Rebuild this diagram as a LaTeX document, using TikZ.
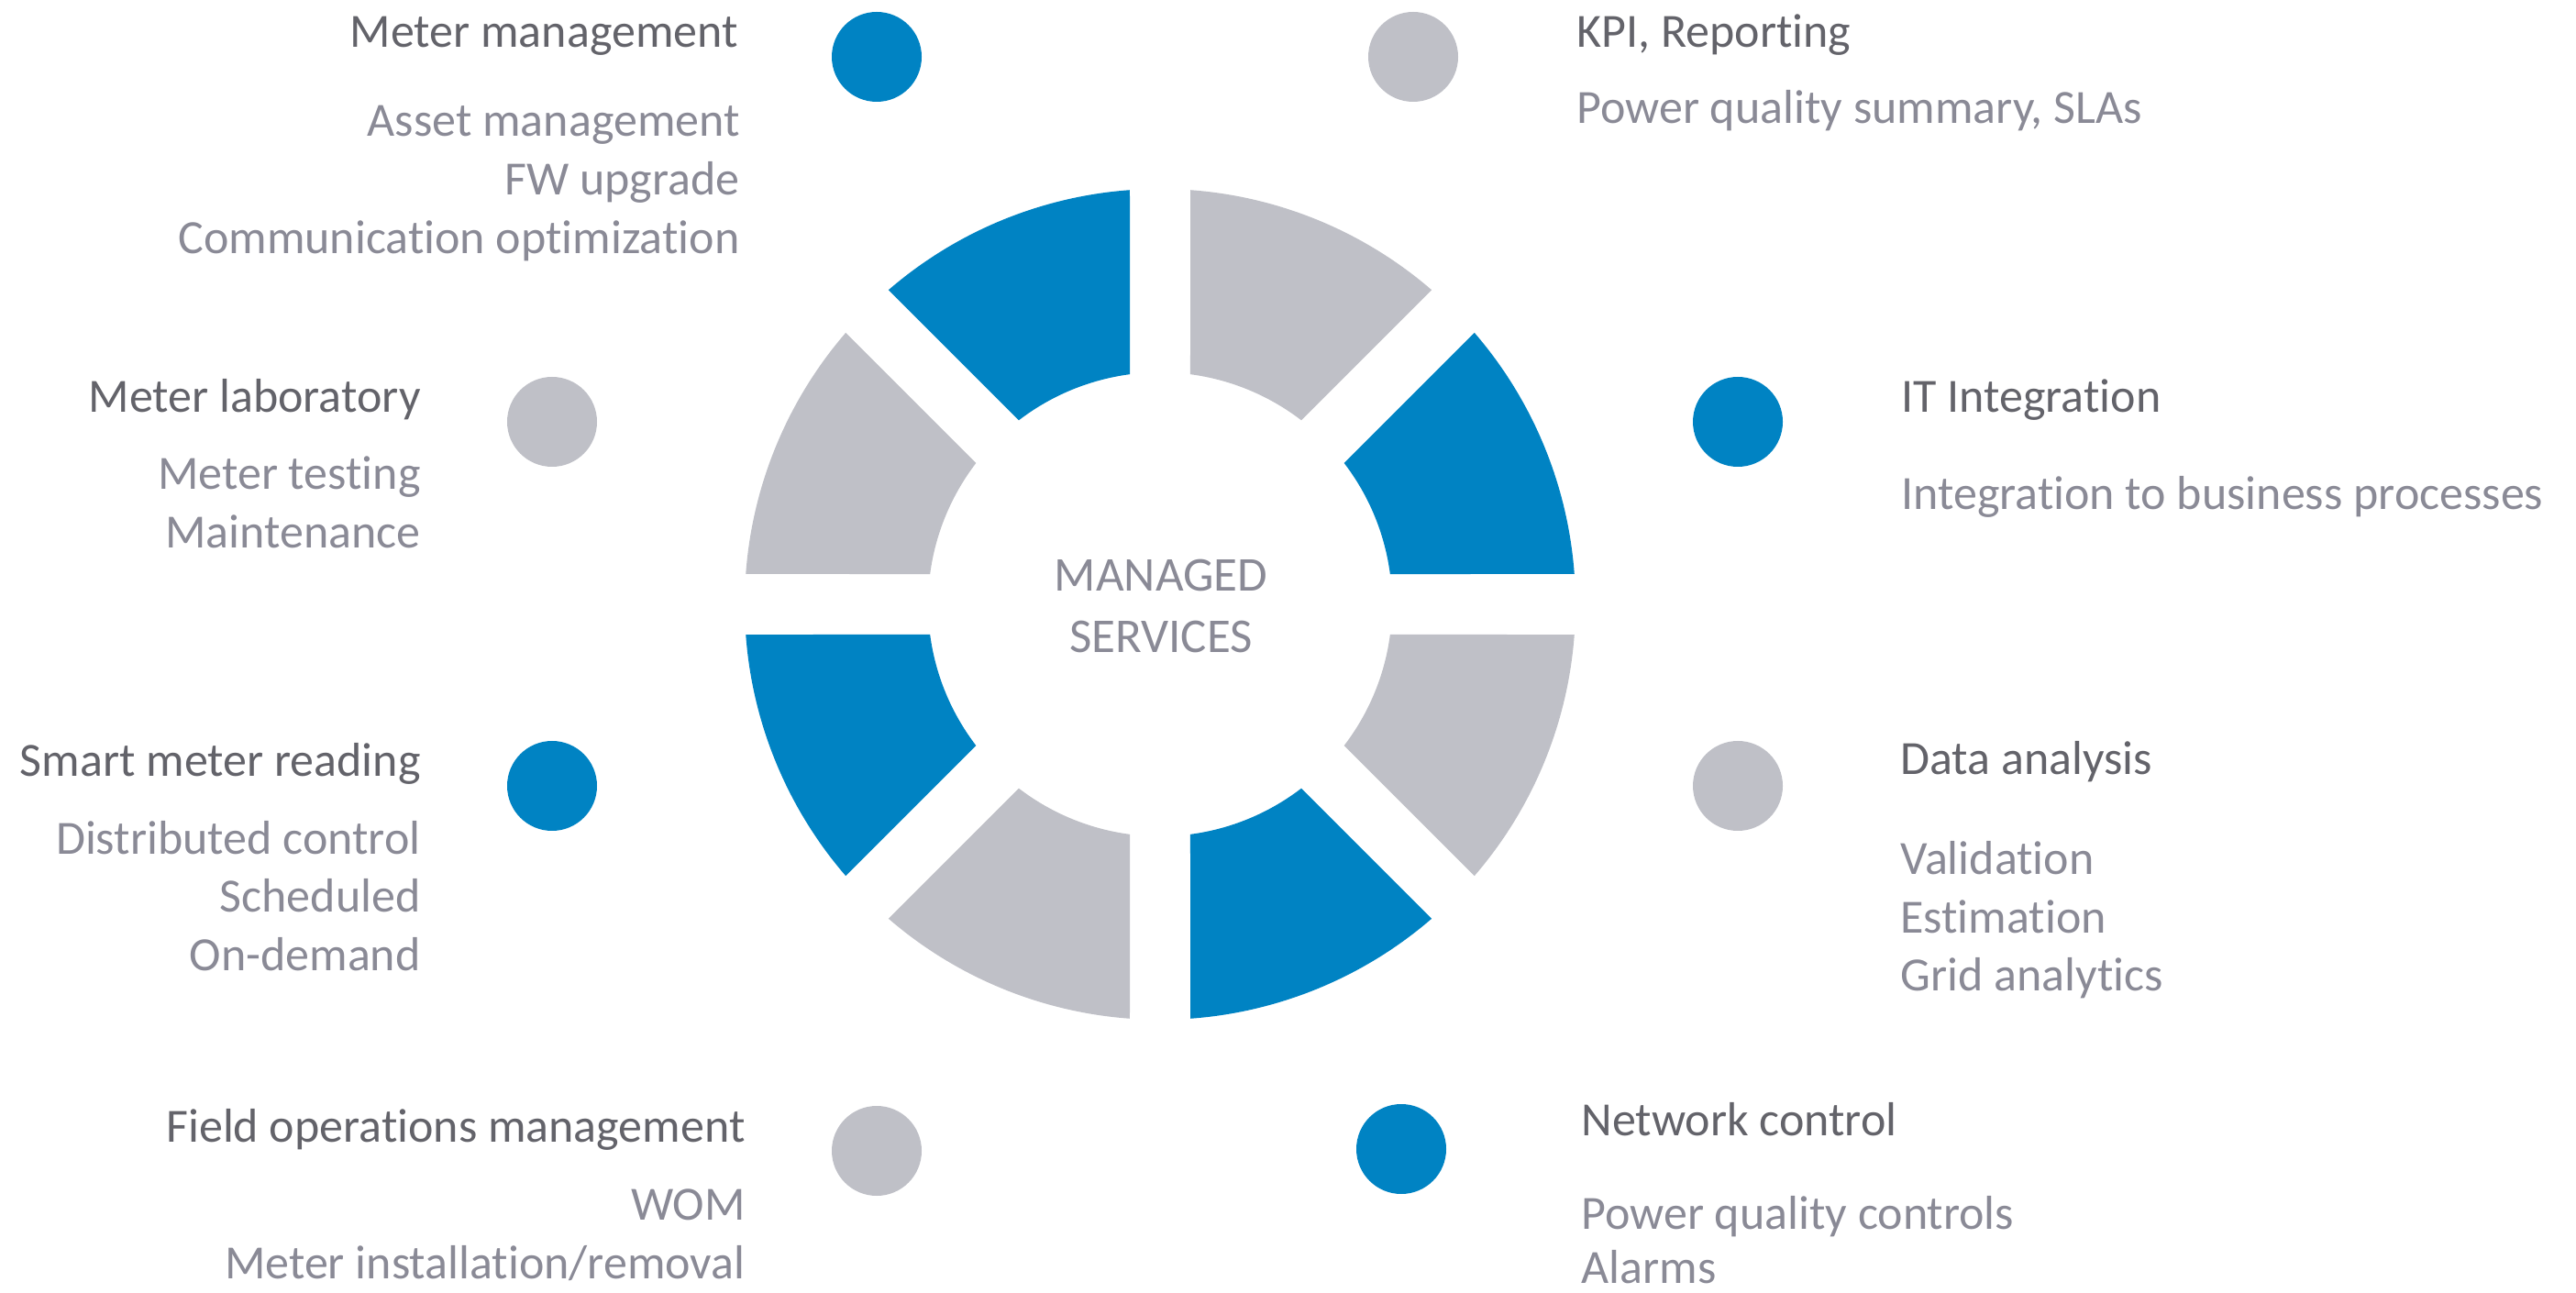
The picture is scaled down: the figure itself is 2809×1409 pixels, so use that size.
\documentclass[tikz,border=0pt]{standalone}
\usepackage{fontspec}
\setmainfont{Carlito}[Ligatures={NoCommon}]
\definecolor{ringblue}{RGB}{0,131,195}
\definecolor{ringgray}{RGB}{191,192,199}
\definecolor{titlec}{RGB}{99,99,106}
\definecolor{subc}{RGB}{138,138,150}
\begin{document}
\begin{tikzpicture}[x=0.5pt,y=0.5pt,
  ttl/.style={inner sep=0pt,text=titlec,font=\fontsize{26}{30}\selectfont},
  sub/.style={inner sep=0pt,text=subc,font=\fontsize{26}{30}\selectfont},
  ctr/.style={inner sep=0pt,text=subc,font=\fontsize{26.5}{30}\selectfont,anchor=base},
  bdot/.style={circle,fill=ringblue,inner sep=0pt,minimum size=49pt},
  gdot/.style={circle,fill=ringgray,inner sep=0pt,minimum size=49pt}]
\useasboundingbox (0,0) rectangle (2809,1409);
% ring
\def\Ro{453}\def\Ri{253}\def\dO{4.18}\def\dI{7.49}
\begin{scope}[shift={(1265,750)}]
\foreach \a/\c in {0/ringblue,45/ringgray,90/ringblue,135/ringgray,180/ringblue,225/ringgray,270/ringblue,315/ringgray}{
  \pgfmathsetmacro\sa{\a+\dO}\pgfmathsetmacro\ea{\a+45-\dO}
  \pgfmathsetmacro\si{\a+\dI}\pgfmathsetmacro\ei{\a+45-\dI}
  \fill[\c] (\sa:\Ro) arc[start angle=\sa,end angle=\ea,radius=\Ro] -- (\ei:\Ri) arc[start angle=\ei,end angle=\si,radius=\Ri] -- cycle;
}
\end{scope}
\node[ctr] (c1) at (1266,764) {MANAGED};
\node[ctr] (c2) at (1266,697) {SERVICES};
% group 1
\node[bdot] (d1) at (956,1347) {};
\node[ttl,anchor=base east] (t1) at (805,1357) {Meter management};
\node[sub,anchor=base east] (s11) at (807,1260) {Asset management};
\node[sub,anchor=base east] (s12) at (807,1196) {FW upgrade};
\node[sub,anchor=base east] (s13) at (807,1132) {Communication optimization};
% group 2
\node[gdot] (d2) at (1541,1347) {};
\node[ttl,anchor=base west] (t2) at (1719,1357) {KPI, Reporting};
\node[sub,anchor=base west] (s21) at (1719,1274) {Power quality summary, SLAs};
% group 3
\node[gdot] (d3) at (602,949) {};
\node[ttl,anchor=base east] (t3) at (459,959) {Meter laboratory};
\node[sub,anchor=base east] (s31) at (459,875) {Meter testing};
\node[sub,anchor=base east] (s32) at (459,811) {Maintenance};
% group 4
\node[bdot] (d4) at (1895,949) {};
\node[ttl,anchor=base west] (t4) at (2073,959) {IT Integration};
\node[sub,anchor=base west] (s41) at (2073,853) {Integration to business processes};
% group 5
\node[bdot] (d5) at (602,552) {};
\node[ttl,anchor=base east] (t5) at (459,562) {Smart meter reading};
\node[sub,anchor=base east] (s51) at (459,478) {Distributed control};
\node[sub,anchor=base east] (s52) at (459,415) {Scheduled};
\node[sub,anchor=base east] (s53) at (459,351) {On-demand};
% group 6
\node[gdot] (d6) at (1895,552) {};
\node[ttl,anchor=base west] (t6) at (2072,564) {Data analysis};
\node[sub,anchor=base west] (s61) at (2072,456) {Validation};
\node[sub,anchor=base west] (s62) at (2072,392) {Estimation};
\node[sub,anchor=base west] (s63) at (2072,329) {Grid analytics};
% group 7
\node[gdot] (d7) at (956,154) {};
\node[ttl,anchor=base east] (t7) at (813,164) {Field operations management};
\node[sub,anchor=base east] (s71) at (813,79) {WOM};
\node[sub,anchor=base east] (s72) at (813,15) {Meter installation/removal};
% group 8
\node[bdot] (d8) at (1528,156) {};
\node[ttl,anchor=base west] (t8) at (1724,171) {Network control};
\node[sub,anchor=base west] (s81) at (1724,69) {Power quality controls};
\node[sub,anchor=base west] (s82) at (1724,10) {Alarms};
\end{tikzpicture}
\end{document}
